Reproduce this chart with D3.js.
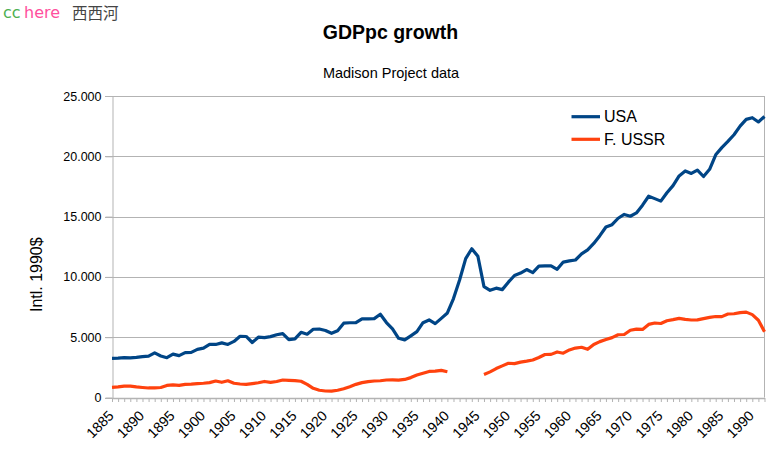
<!DOCTYPE html>
<html>
<head>
<meta charset="utf-8">
<script src="https://cdn.jsdelivr.net/npm/d3@7"></script>
<style>
  html, body { margin: 0; padding: 0; background: #fff; }
  svg { display: block; }
  text { font-family: "Liberation Sans", Arial, sans-serif; }
</style>
</head>
<body>
<svg id="chart" width="778" height="463"></svg>
<script>
// ---- data ----
const firstYear = 1885, lastYear = 1992;
const years = d3.range(firstYear, lastYear + 1);

const usa = [
  3250, 3260, 3300, 3280, 3330, 3392, 3429, 3700, 3445, 3300,   // 1885-1894
  3600, 3470, 3720, 3740, 3990, 4091, 4400, 4400, 4530, 4400,   // 1895-1904
  4650, 5080, 5060, 4560, 5000, 4964, 5046, 5201, 5301, 4799,   // 1905-1914
  4864, 5404, 5248, 5659, 5680, 5552, 5323, 5540, 6164, 6198,   // 1915-1924
  6202, 6523, 6525, 6539, 6899, 6213, 5691, 4908, 4777, 5114,   // 1925-1934
  5467, 6204, 6430, 6126, 6561, 7010, 8206, 9741, 11518, 12333, // 1935-1944
  11709, 9197, 8886, 9065, 8944, 9561, 10116, 10316, 10613, 10359, // 1945-1954
  10897, 10914, 10920, 10631, 11230, 11328, 11402, 11905, 12242, 12773, // 1955-1964
  13419, 14134, 14330, 14863, 15179, 15030, 15304, 15944, 16689, 16491, // 1965-1974
  16284, 16975, 17567, 18373, 18789, 18577, 18856, 18325, 18920, 20123, // 1975-1984
  20717, 21236, 21788, 22499, 23059, 23201, 22849, 23298        // 1985-1992
];

const ussr = [
  840, 880, 940, 950, 880, 830, 790, 800, 830, 1000,            // 1885-1894
  1050, 1010, 1090, 1110, 1150, 1180, 1230, 1370, 1260, 1390,   // 1895-1904
  1180, 1120, 1090, 1150, 1220, 1330, 1260, 1330, 1450, 1420,   // 1905-1914
  1400, 1350, 1090, 760, 600, 540, 530, 600, 730, 900,          // 1915-1924
  1090, 1230, 1310, 1370, 1390, 1450, 1460, 1440, 1500, 1650,   // 1925-1934
  1860, 2010, 2160, 2180, 2250, 2140, null, null, null, null,   // 1935-1944
  null, 1913, 2126, 2402, 2623, 2841, 2805, 2937, 3013, 3106,   // 1945-1954
  3313, 3566, 3576, 3777, 3672, 3945, 4098, 4167, 3997, 4401,   // 1955-1964
  4634, 4804, 4963, 5202, 5225, 5575, 5667, 5643, 6059, 6176,   // 1965-1974
  6136, 6363, 6454, 6559, 6472, 6427, 6432, 6544, 6640, 6717,   // 1975-1984
  6708, 6924, 6944, 7043, 7078, 6871, 6409, 5460                // 1985-1992
];

const yTicks = [0, 5000, 10000, 15000, 20000, 25000];
const seriesNames = ["USA", "F. USSR"];
const seriesColors = ["#004586", "#ff420e"];
const titleText = "GDPpc growth";
const subtitleText = "Madison Project data";
const yTitle = "Intl. 1990$";

// ---- layout ----
const svg = d3.select("#chart");
const plot = { left: 112, right: 764.5, top: 96, bottom: 397.5 };

const x = d3.scalePoint().domain(years).range([plot.left, plot.right]).padding(0);
const y = d3.scaleLinear().domain([0, 25000]).range([plot.bottom, plot.top]);

const loc = d3.formatLocale({ decimal: ",", thousands: ".", grouping: [3], currency: ["", ""] });
const fmt = loc.format(",d");

// watermark
svg.append("text").attr("x", 3).attr("y", 18).attr("fill", "#4caf50")
  .style("font-size", "16px").style("font-family", "DejaVu Sans").text("cc");
svg.append("text").attr("x", 24).attr("y", 18).attr("fill", "#ff4f9e")
  .style("font-size", "16px").style("font-family", "DejaVu Sans").text("here");
svg.append("text").attr("x", 72).attr("y", 19).attr("fill", "#444")
  .style("font-size", "15.5px").style("font-family", "Noto Sans CJK SC").text("西西河");

// titles
svg.append("text").attr("x", 390.5).attr("y", 39).attr("text-anchor", "middle")
  .style("font-size", "19.5px").style("font-weight", "bold").text(titleText);
svg.append("text").attr("x", 391).attr("y", 78).attr("text-anchor", "middle")
  .style("font-size", "14.5px").text(subtitleText);
svg.append("text")
  .attr("transform", `translate(41.5, ${274.7}) rotate(-90)`)
  .attr("text-anchor", "middle").style("font-size", "16px").text(yTitle);

// grid lines
svg.append("g").selectAll("line").data(yTicks).join("line")
  .attr("x1", plot.left - 7).attr("x2", plot.right)
  .attr("y1", d => Math.round(y(d)) + 0.5).attr("y2", d => Math.round(y(d)) + 0.5)
  .attr("stroke", "#b3b3b3").attr("stroke-width", 1);

// right border
svg.append("line").attr("x1", plot.right).attr("x2", plot.right)
  .attr("y1", plot.top).attr("y2", plot.bottom)
  .attr("stroke", "#b3b3b3").attr("stroke-width", 1);

// y axis
const yAxis = d3.axisLeft(y).tickValues(yTicks).tickFormat(d => fmt(d))
  .tickSizeInner(7).tickSizeOuter(0).tickPadding(4);
const gy = svg.append("g").attr("transform", `translate(${plot.left + 0.5},0)`).call(yAxis);
gy.attr("font-size", null).attr("font-family", null);
gy.select(".domain").attr("stroke", "#b3b3b3");
gy.selectAll(".tick line").attr("stroke", "#b3b3b3");
gy.selectAll(".tick text").style("font-size", "12.5px").attr("fill", "#000");

// x axis
const xAxis = d3.axisBottom(x).tickSizeInner(4).tickSizeOuter(0).tickPadding(0)
  .tickFormat(d => (d % 5 === 0 ? String(d) : ""));
const gx = svg.append("g").attr("transform", `translate(0,${plot.bottom + 0.5})`).call(xAxis);
gx.attr("font-size", null).attr("font-family", null);
gx.select(".domain").attr("stroke", "#b3b3b3").attr("stroke-width", 1.5);
gx.selectAll(".tick line").attr("stroke", "#b3b3b3");
gx.selectAll(".tick text")
  .style("font-size", "14.2px")
  .attr("fill", "#000")
  .attr("text-anchor", "end")
  .attr("dy", "0.71em")
  .attr("transform", "translate(-5,11.5) rotate(-45)")
  .attr("y", 0);

// lines
const line = d3.line()
  .defined(d => d.v != null)
  .x(d => x(d.year))
  .y(d => y(d.v));

const seriesData = [usa, ussr].map(arr => years.map((yr, i) => ({ year: yr, v: arr[i] })));

svg.append("g").selectAll("path").data(seriesData).join("path")
  .attr("d", d => line(d))
  .attr("fill", "none")
  .attr("stroke", (d, i) => seriesColors[i])
  .attr("stroke-width", 3.2)
  .attr("stroke-linejoin", "round")
  .attr("stroke-linecap", "butt");

// legend
const lg = svg.append("g");
seriesNames.forEach((name, i) => {
  const ly = 116.7 + i * 22.6;
  lg.append("line").attr("x1", 571.5).attr("x2", 600).attr("y1", ly).attr("y2", ly)
    .attr("stroke", seriesColors[i]).attr("stroke-width", 3.2);
  lg.append("text").attr("x", 604).attr("y", ly + 5.6).style("font-size", "16px").text(name);
});
</script>
</body>
</html>
